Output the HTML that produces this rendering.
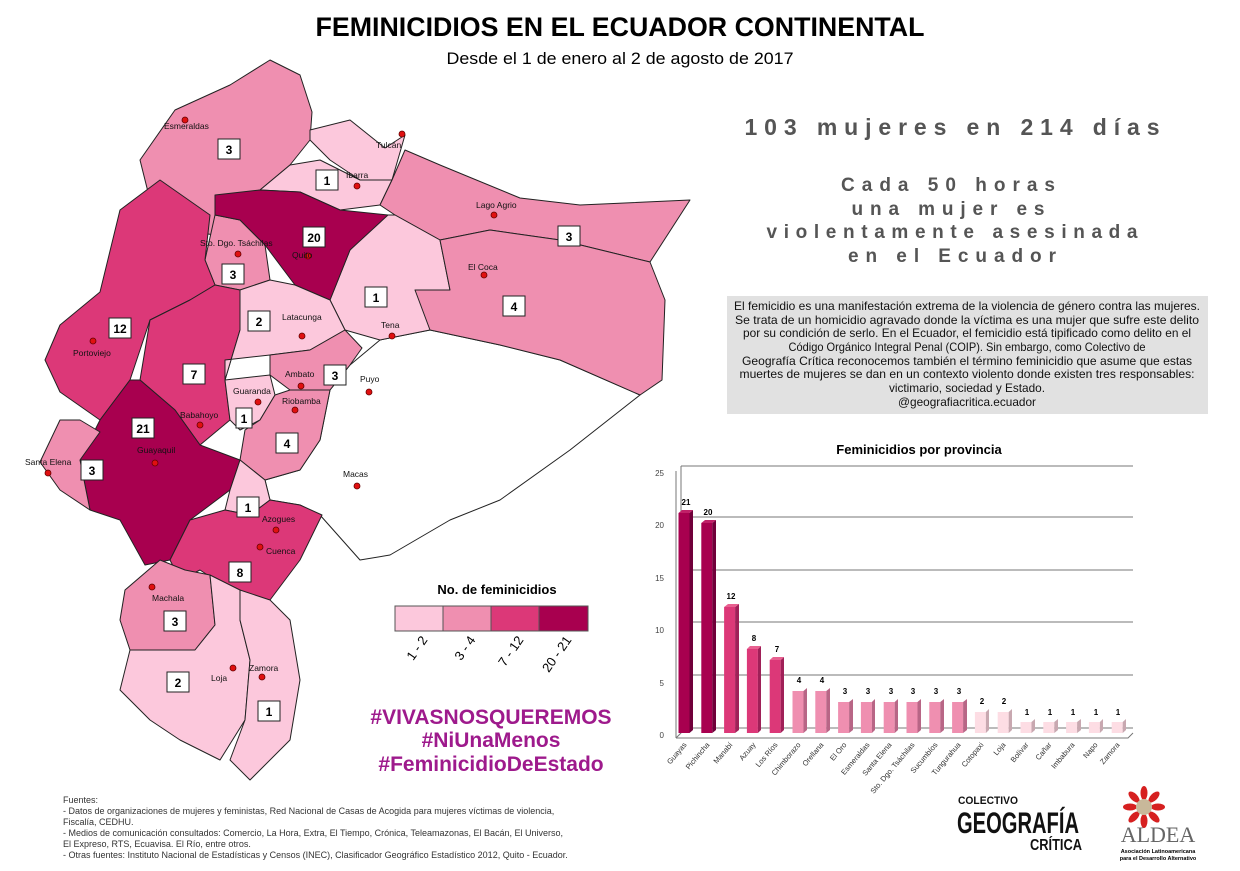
<!DOCTYPE html>
<html><head><meta charset="utf-8"><style>
html,body{margin:0;padding:0;background:#fff}
svg{display:block;font-family:"Liberation Sans",sans-serif}
</style></head><body>
<svg width="1240" height="871" viewBox="0 0 1240 871" xmlns="http://www.w3.org/2000/svg">
<rect width="1240" height="871" fill="#fff"/>
<text x="620" y="36" text-anchor="middle" font-size="27" font-weight="bold" textLength="609" lengthAdjust="spacingAndGlyphs">FEMINICIDIOS EN EL ECUADOR CONTINENTAL</text>
<text x="620" y="64" text-anchor="middle" font-size="17" textLength="347" lengthAdjust="spacingAndGlyphs">Desde el 1 de enero al 2 de agosto de 2017</text>

<g font-weight="bold" fill="#555" text-anchor="middle">
<text x="952" y="135" font-size="23" textLength="415" lengthAdjust="spacing">103 mujeres en 214 días</text>
<text x="948" y="191" font-size="19" textLength="214" lengthAdjust="spacing">Cada 50 horas</text>
<text x="948" y="215" font-size="19" textLength="193" lengthAdjust="spacing">una mujer es</text>
<text x="952" y="238" font-size="19" textLength="371" lengthAdjust="spacing">violentamente asesinada</text>
<text x="952" y="262" font-size="19" textLength="208" lengthAdjust="spacing">en el Ecuador</text>
</g>

<rect x="727" y="296" width="481" height="118" fill="#e1e1e1"/>
<g font-size="11.8" text-anchor="middle" fill="#111">
<text x="967" y="310" textLength="466" lengthAdjust="spacingAndGlyphs">El femicidio es una manifestación extrema de la violencia de género contra las mujeres.</text>
<text x="967" y="324" textLength="464" lengthAdjust="spacingAndGlyphs">Se trata de un homicidio agravado donde la víctima es una mujer que sufre este delito</text>
<text x="967" y="337" textLength="448" lengthAdjust="spacingAndGlyphs">por su condición de serlo. En el Ecuador, el femicidio está tipificado como delito en el</text>
<text x="967" y="351" textLength="357" lengthAdjust="spacingAndGlyphs">Código Orgánico Integral Penal (COIP). Sin embargo, como Colectivo de</text>
<text x="967" y="365" textLength="450" lengthAdjust="spacingAndGlyphs">Geografía Crítica reconocemos también el término feminicidio que asume que estas</text>
<text x="967" y="378" textLength="455" lengthAdjust="spacingAndGlyphs">muertes de mujeres se dan en un contexto violento donde existen tres responsables:</text>
<text x="967" y="392">victimario, sociedad y Estado.</text>
<text x="967" y="406">@geografiacritica.ecuador</text>
</g>

<!-- MAP -->
<g stroke="#222" stroke-width="1" stroke-linejoin="round">
<polygon fill="#fff" points="330,390 350,365 380,340 430,330 500,345 560,360 640,395 570,450 500,500 450,520 390,555 360,560 320,515 300,505 270,500 265,480 300,470 320,440"/>
<polygon fill="#ef8fb0" points="140,160 175,110 230,85 270,60 300,75 312,112 310,140 290,165 260,190 220,200 215,235 180,230 150,200"/>
<polygon fill="#fcc8dc" points="310,130 350,120 385,148 405,135 392,180 360,180 330,160 310,140"/>
<polygon fill="#fcc8dc" points="260,190 290,165 320,160 360,180 392,180 380,205 340,210 300,192"/>
<polygon fill="#ef8fb0" points="380,205 392,180 405,150 440,165 520,198 580,205 690,200 650,262 560,240 490,230 440,240 395,215"/>
<polygon fill="#fcc8dc" points="350,250 385,215 395,215 440,240 450,290 430,330 380,340 345,330 330,300"/>
<polygon fill="#ef8fb0" points="440,240 490,230 560,240 650,262 665,300 662,380 640,395 560,360 500,345 430,330 415,290 450,290"/>
<polygon fill="#ef8fb0" points="215,215 240,220 265,245 270,280 240,290 215,285 205,260"/>
<polygon fill="#a8004f" points="215,195 260,190 300,192 340,210 388,215 350,250 330,300 295,285 265,245 240,220 215,215"/>
<polygon fill="#dc3878" points="60,325 100,292 120,210 160,180 210,215 205,260 215,285 190,300 150,320 130,380 100,420 60,392 45,360"/>
<polygon fill="#dc3878" points="150,320 190,300 215,285 240,290 240,330 225,380 230,420 200,445 175,410 140,380"/>
<polygon fill="#fcc8dc" points="240,290 270,280 295,285 330,300 345,330 310,350 270,355 225,360 225,380 240,330"/>
<polygon fill="#ef8fb0" points="270,355 310,350 345,330 362,348 350,365 330,390 290,390 270,375"/>
<polygon fill="#fcc8dc" points="225,380 270,375 275,395 260,420 240,430 230,420"/>
<polygon fill="#ef8fb0" points="260,420 275,395 290,390 330,390 320,440 300,470 265,480 240,460 245,430"/>
<polygon fill="#a8004f" points="100,420 130,380 140,380 175,410 200,445 240,460 230,490 190,520 170,560 145,565 120,520 90,510 80,460"/>
<polygon fill="#ef8fb0" points="40,462 60,420 80,420 100,432 80,460 90,510 60,490"/>
<polygon fill="#fcc8dc" points="230,490 240,460 265,480 270,500 250,515 225,510"/>
<polygon fill="#dc3878" points="190,520 225,510 250,515 270,500 300,505 322,515 300,560 270,600 230,590 200,570 180,580 170,560"/>
<polygon fill="#ef8fb0" points="125,590 160,560 185,570 210,575 215,625 195,650 130,650 120,620"/>
<polygon fill="#fcc8dc" points="130,650 195,650 215,625 210,575 240,590 240,620 250,660 245,720 220,760 180,740 150,720 120,690"/>
<polygon fill="#fcc8dc" points="240,590 270,600 290,620 300,680 290,740 250,780 230,760 245,720 250,660 240,620"/>
</g>

<g fill="#e01010" stroke="#600" stroke-width="0.8">
<circle cx="185" cy="120" r="3"/><circle cx="402" cy="134" r="3"/><circle cx="357" cy="186" r="3"/>
<circle cx="494" cy="215" r="3"/><circle cx="308" cy="256" r="3"/><circle cx="238" cy="254" r="3"/>
<circle cx="484" cy="275" r="3"/><circle cx="302" cy="336" r="3"/><circle cx="392" cy="336" r="3"/>
<circle cx="93" cy="341" r="3"/><circle cx="301" cy="386" r="3"/><circle cx="369" cy="392" r="3"/>
<circle cx="258" cy="402" r="3"/><circle cx="295" cy="410" r="3"/><circle cx="200" cy="425" r="3"/>
<circle cx="155" cy="463" r="3"/><circle cx="48" cy="473" r="3"/><circle cx="357" cy="486" r="3"/>
<circle cx="276" cy="530" r="3"/><circle cx="260" cy="547" r="3"/><circle cx="152" cy="587" r="3"/>
<circle cx="233" cy="668" r="3"/><circle cx="262" cy="677" r="3"/>
</g>
<g font-size="8.5" fill="#111">
<text x="164" y="129">Esmeraldas</text><text x="376" y="148">Tulcán</text><text x="346" y="178">Ibarra</text>
<text x="476" y="208">Lago Agrio</text><text x="200" y="246">Sto. Dgo. Tsáchilas</text><text x="292" y="258">Quito</text>
<text x="468" y="270">El Coca</text><text x="282" y="320">Latacunga</text><text x="381" y="328">Tena</text>
<text x="73" y="356">Portoviejo</text><text x="285" y="377">Ambato</text><text x="360" y="382">Puyo</text>
<text x="233" y="394">Guaranda</text><text x="282" y="404">Riobamba</text><text x="180" y="418">Babahoyo</text>
<text x="137" y="453">Guayaquil</text><text x="25" y="465">Santa Elena</text><text x="343" y="477">Macas</text>
<text x="262" y="522">Azogues</text><text x="266" y="554">Cuenca</text><text x="152" y="601">Machala</text>
<text x="211" y="681">Loja</text><text x="249" y="671">Zamora</text>
</g>
<g font-size="12" font-weight="bold" text-anchor="middle">
<g fill="#fff" stroke="#222" stroke-width="1">
<rect x="218" y="139" width="22" height="20"/><rect x="316" y="170" width="22" height="20"/><rect x="303" y="227" width="22" height="20"/>
<rect x="558" y="226" width="22" height="20"/><rect x="365" y="287" width="22" height="20"/><rect x="503" y="296" width="22" height="20"/>
<rect x="222" y="264" width="22" height="20"/><rect x="248" y="311" width="22" height="20"/><rect x="109" y="318" width="22" height="20"/>
<rect x="183" y="364" width="22" height="20"/><rect x="324" y="365" width="22" height="20"/><rect x="236" y="408" width="16" height="20"/>
<rect x="132" y="418" width="22" height="20"/><rect x="276" y="433" width="22" height="20"/><rect x="81" y="460" width="22" height="20"/>
<rect x="237" y="497" width="22" height="20"/><rect x="229" y="562" width="22" height="20"/><rect x="164" y="611" width="22" height="20"/>
<rect x="167" y="672" width="22" height="20"/><rect x="258" y="701" width="22" height="20"/>
</g>
<text x="229" y="154">3</text><text x="327" y="185">1</text><text x="314" y="242">20</text><text x="569" y="241">3</text>
<text x="376" y="302">1</text><text x="514" y="311">4</text><text x="233" y="279">3</text><text x="259" y="326">2</text>
<text x="120" y="333">12</text><text x="194" y="379">7</text><text x="335" y="380">3</text><text x="244" y="423">1</text>
<text x="143" y="433">21</text><text x="287" y="448">4</text><text x="92" y="475">3</text><text x="248" y="512">1</text>
<text x="240" y="577">8</text><text x="175" y="626">3</text><text x="178" y="687">2</text><text x="269" y="716">1</text>
</g>

<text x="497" y="594" text-anchor="middle" font-size="13" font-weight="bold">No. de feminicidios</text>
<g stroke="#555" stroke-width="1">
<rect x="395" y="606" width="48" height="25" fill="#fcc8dc"/>
<rect x="443" y="606" width="48" height="25" fill="#ef8fb0"/>
<rect x="491" y="606" width="48" height="25" fill="#dc3878"/>
<rect x="539" y="606" width="49" height="25" fill="#a8004f"/>
</g>
<g font-size="13" text-anchor="end">
<text transform="translate(428,640) rotate(-55)">1 - 2</text>
<text transform="translate(476,640) rotate(-55)">3 - 4</text>
<text transform="translate(524,640) rotate(-55)">7 - 12</text>
<text transform="translate(572,640) rotate(-55)">20 - 21</text>
</g>

<g font-size="21" font-weight="bold" fill="#9e1a8c" text-anchor="middle">
<text x="491" y="724">#VIVASNOSQUEREMOS</text>
<text x="491" y="747">#NiUnaMenos</text>
<text x="491" y="771">#FeminicidioDeEstado</text>
</g>

<g font-size="9" fill="#333">
<text x="63" y="803">Fuentes:</text>
<text x="63" y="814">- Datos de organizaciones de mujeres y feministas, Red Nacional de Casas de Acogida para mujeres víctimas de violencia,</text>
<text x="63" y="825">Fiscalía, CEDHU.</text>
<text x="63" y="836">- Medios de comunicación consultados: Comercio, La Hora, Extra, El Tiempo, Crónica, Teleamazonas,  El Bacán, El Universo,</text>
<text x="63" y="847">El Expreso, RTS, Ecuavisa. El Río, entre otros.</text>
<text x="63" y="858">- Otras fuentes: Instituto Nacional de Estadísticas y Censos (INEC), Clasificador Geográfico Estadístico 2012, Quito - Ecuador.</text>
</g>

<g font-weight="bold" fill="#111">
<text x="958" y="804" font-size="11" textLength="60" lengthAdjust="spacingAndGlyphs">COLECTIVO</text>
<text x="957" y="833" font-size="30" textLength="122" lengthAdjust="spacingAndGlyphs">GEOGRAFÍA</text>
<text x="1030" y="850" font-size="16" textLength="52" lengthAdjust="spacingAndGlyphs">CRÍTICA</text>
</g>
<g transform="translate(1144,807)">
<g fill="#d62020">
<ellipse cx="0" cy="-14" rx="3.5" ry="7"/><ellipse cx="0" cy="14" rx="3.5" ry="7"/>
<ellipse cx="-14" cy="0" rx="7" ry="3.5"/><ellipse cx="14" cy="0" rx="7" ry="3.5"/>
<ellipse cx="10" cy="-10" rx="3.5" ry="7" transform="rotate(45 10 -10)"/><ellipse cx="-10" cy="10" rx="3.5" ry="7" transform="rotate(45 -10 10)"/>
<ellipse cx="-10" cy="-10" rx="3.5" ry="7" transform="rotate(-45 -10 -10)"/><ellipse cx="10" cy="10" rx="3.5" ry="7" transform="rotate(-45 10 10)"/>
</g>
<circle r="8" fill="#c8b89a"/>
</g>
<text x="1158" y="842" text-anchor="middle" font-family="Liberation Serif,serif" font-size="22" fill="#666">ALDEA</text>
<text x="1158" y="853" text-anchor="middle" font-size="5.5" font-weight="bold">Asociación Latinoamericana</text>
<text x="1158" y="860" text-anchor="middle" font-size="5.5" font-weight="bold">para el Desarrollo Alternativo</text>

<text x="919" y="454" text-anchor="middle" font-size="13" font-weight="bold">Feminicidios por provincia</text>
<g stroke="#777" stroke-width="1" fill="none">
<polyline points="676,738 681,733 681,466"/>
<line x1="681" y1="466" x2="1133" y2="466"/>
<line x1="681" y1="517" x2="1133" y2="517"/>
<line x1="681" y1="570" x2="1133" y2="570"/>
<line x1="681" y1="622" x2="1133" y2="622"/>
<line x1="681" y1="675" x2="1133" y2="675"/>
<line x1="681" y1="728" x2="1133" y2="728"/>
<polyline points="676,738 1128,738 1133,733"/>
<line x1="676" y1="471" x2="676" y2="738"/>
</g>
<g font-size="8" fill="#444" text-anchor="end">
<text x="664" y="476">25</text><text x="664" y="528">20</text><text x="664" y="581">15</text>
<text x="664" y="633">10</text><text x="664" y="686">5</text><text x="664" y="738">0</text>
</g>
<g>
<rect x="678.5" y="513" width="11" height="220" fill="#a8004f"/><polygon points="689.5,513 693,510 693,730 689.5,733" fill="#70003a"/><polygon points="678.5,513 682,510 693,510 689.5,513" fill="#c02068"/>
<rect x="701.3" y="523" width="11" height="210" fill="#a8004f"/><polygon points="712.3,523 716,520 716,730 712.3,733" fill="#70003a"/><polygon points="701.3,523 705,520 716,520 712.3,523" fill="#c02068"/>
<rect x="724.1" y="607" width="11" height="126" fill="#dc3878"/><polygon points="735.1,607 739,604 739,730 735.1,733" fill="#a02058"/><polygon points="724.1,607 728,604 739,604 735.1,607" fill="#e86090"/>
<rect x="746.9" y="649" width="11" height="84" fill="#dc3878"/><polygon points="757.9,649 761,646 761,730 757.9,733" fill="#a02058"/><polygon points="746.9,649 750,646 761,646 757.9,649" fill="#e86090"/>
<rect x="769.7" y="660" width="11" height="73" fill="#dc3878"/><polygon points="780.7,660 784,657 784,730 780.7,733" fill="#a02058"/><polygon points="769.7,660 773,657 784,657 780.7,660" fill="#e86090"/>
<rect x="792.5" y="691" width="11" height="42" fill="#ef8fb0"/><polygon points="803.5,691 807,688 807,730 803.5,733" fill="#b86686"/>
<rect x="815.3" y="691" width="11" height="42" fill="#ef8fb0"/><polygon points="826.3,691 830,688 830,730 826.3,733" fill="#b86686"/>
<rect x="838.1" y="702" width="11" height="31" fill="#ef8fb0"/><polygon points="849.1,702 853,699 853,730 849.1,733" fill="#b86686"/>
<rect x="860.9" y="702" width="11" height="31" fill="#ef8fb0"/><polygon points="871.9,702 875,699 875,730 871.9,733" fill="#b86686"/>
<rect x="883.7" y="702" width="11" height="31" fill="#ef8fb0"/><polygon points="894.7,702 898,699 898,730 894.7,733" fill="#b86686"/>
<rect x="906.5" y="702" width="11" height="31" fill="#ef8fb0"/><polygon points="917.5,702 921,699 921,730 917.5,733" fill="#b86686"/>
<rect x="929.3" y="702" width="11" height="31" fill="#ef8fb0"/><polygon points="940.3,702 944,699 944,730 940.3,733" fill="#b86686"/>
<rect x="952.1" y="702" width="11" height="31" fill="#ef8fb0"/><polygon points="963.1,702 967,699 967,730 963.1,733" fill="#b86686"/>
<rect x="974.9" y="712" width="11" height="21" fill="#fddde4"/><polygon points="985.9,712 989,709 989,730 985.9,733" fill="#c8a8b0"/>
<rect x="997.7" y="712" width="11" height="21" fill="#fddde4"/><polygon points="1008.7,712 1012,709 1012,730 1008.7,733" fill="#c8a8b0"/>
<rect x="1020.5" y="722" width="11" height="11" fill="#fddde4"/><polygon points="1031.5,722 1035,719 1035,730 1031.5,733" fill="#c8a8b0"/>
<rect x="1043.3" y="722" width="11" height="11" fill="#fddde4"/><polygon points="1054.3,722 1058,719 1058,730 1054.3,733" fill="#c8a8b0"/>
<rect x="1066.1" y="722" width="11" height="11" fill="#fddde4"/><polygon points="1077.1,722 1081,719 1081,730 1077.1,733" fill="#c8a8b0"/>
<rect x="1088.9" y="722" width="11" height="11" fill="#fddde4"/><polygon points="1099.9,722 1103,719 1103,730 1099.9,733" fill="#c8a8b0"/>
<rect x="1111.7" y="722" width="11" height="11" fill="#fddde4"/><polygon points="1122.7,722 1126,719 1126,730 1122.7,733" fill="#c8a8b0"/>
</g>
<g font-size="8" font-weight="bold" text-anchor="middle">
<text x="686" y="505">21</text><text x="708" y="515">20</text><text x="731" y="599">12</text><text x="754" y="641">8</text>
<text x="777" y="652">7</text><text x="799" y="683">4</text><text x="822" y="683">4</text><text x="845" y="694">3</text>
<text x="868" y="694">3</text><text x="891" y="694">3</text><text x="913" y="694">3</text><text x="936" y="694">3</text>
<text x="959" y="694">3</text><text x="982" y="704">2</text><text x="1004" y="704">2</text><text x="1027" y="715">1</text>
<text x="1050" y="715">1</text><text x="1073" y="715">1</text><text x="1096" y="715">1</text><text x="1118" y="715">1</text>
</g>
<g font-size="7.5" fill="#333" text-anchor="end">
<text transform="translate(687,745) rotate(-50)">Guayas</text>
<text transform="translate(710,745) rotate(-50)">Pichincha</text>
<text transform="translate(733,745) rotate(-50)">Manabí</text>
<text transform="translate(756,745) rotate(-50)">Azuay</text>
<text transform="translate(778,745) rotate(-50)">Los Ríos</text>
<text transform="translate(801,745) rotate(-50)">Chimborazo</text>
<text transform="translate(824,745) rotate(-50)">Orellana</text>
<text transform="translate(847,745) rotate(-50)">El Oro</text>
<text transform="translate(870,745) rotate(-50)">Esmeraldas</text>
<text transform="translate(892,745) rotate(-50)">Santa Elena</text>
<text transform="translate(915,745) rotate(-50)">Sto. Dgo. Tsáchilas</text>
<text transform="translate(938,745) rotate(-50)">Sucumbíos</text>
<text transform="translate(961,745) rotate(-50)">Tungurahua</text>
<text transform="translate(984,745) rotate(-50)">Cotopaxi</text>
<text transform="translate(1006,745) rotate(-50)">Loja</text>
<text transform="translate(1029,745) rotate(-50)">Bolívar</text>
<text transform="translate(1052,745) rotate(-50)">Cañar</text>
<text transform="translate(1075,745) rotate(-50)">Imbabura</text>
<text transform="translate(1098,745) rotate(-50)">Napo</text>
<text transform="translate(1120,745) rotate(-50)">Zamora</text>
</g>
</svg>
</body></html>
